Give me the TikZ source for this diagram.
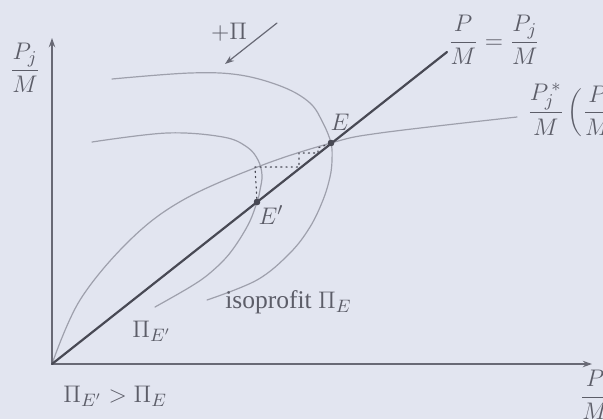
\documentclass[tikz,border=0pt]{standalone}
\usepackage{fontspec}
\setmainfont{Liberation Serif}
\usetikzlibrary{arrows.meta}
\definecolor{Page}{RGB}{226,229,240}
\definecolor{Curve}{RGB}{158,160,172}
\definecolor{Axis}{RGB}{104,105,117}
\definecolor{Diag}{RGB}{72,73,84}
\definecolor{Ink}{RGB}{92,93,104}

\begin{document}
\begin{tikzpicture}[x=0.5pt,y=-0.5pt,line cap=round,line join=round,
  axis/.style={draw=Axis,line width=0.75pt},
  tip/.style={-{Stealth[length=4.6pt,width=3.2pt]}},
  diag/.style={draw=Diag,line width=1.1pt},
  curve/.style={draw=Curve,line width=0.6pt},
  path/.style={draw=Diag,line width=0.6pt,dotted},
  eqdot/.style={circle,fill=Diag,minimum size=3.2pt,inner sep=0pt},
  lbl/.style={text=Ink,inner sep=0pt,font=\fontsize{12.75}{15}\selectfont}]
\fill[Page] (0,0) rectangle (603,419);
\useasboundingbox (0,0) rectangle (603,419);
\coordinate (O) at (52,364);
\coordinate (ytop) at (52,38);
\coordinate (xend) at (592,364);
\coordinate (dtop) at (447,52);
\coordinate (pstart) at (277,23);
\coordinate (pend) at (225,64);
\node[eqdot] (E) at (331,143) {};
\node[eqdot] (Ep) at (257,202) {};
\draw[curve] plot[smooth,tension=0.6] coordinates {(52,364) (80,300) (130,240) (183,200) (260,166) (331,143) (380,133) (517,117)};
\draw[curve] plot[smooth,tension=0.6] coordinates {(112,79) (190,73) (240,75) (283,87) (310,103) (323,123) (331,143) (332,160) (330,177) (323,200) (310,227) (290,253) (257,280) (207,300)};
\draw[curve] plot[smooth,tension=0.6] coordinates {(92,142) (167,133) (223,137) (247,147) (258,160) (262,175) (260,190) (257,202) (248,225) (230,253) (210,273) (190,287) (155,307)};
\draw[path] (Ep) -- (255,167) -- (299,167) -- (299,153) -- (318,153) -- (318,148) -- (E);
\draw[axis,{Stealth[length=4.6pt,width=3.2pt]}-{Stealth[length=4.6pt,width=3.2pt]}] (ytop) -- (O) -- (xend);
\draw[diag] (O) -- (dtop);
\node[eqdot] at (E) {};
\node[eqdot] at (Ep) {};
\draw[axis,tip,line width=0.6pt] (pstart) -- (pend);
\node[lbl] (plus) at (229,32) {$+\Pi$};
\node[lbl] (ylab) at (25,68) {$\displaystyle\frac{P_j}{M}$};
\node[lbl] (xlab) at (595,395) {$\displaystyle\frac{P}{M}$};
\node[lbl] (dlab) at (494,40) {$\displaystyle\frac{P}{M}=\frac{P_j}{M}$};
\node[lbl,anchor=west] (rlab) at (527,110) {$\displaystyle\frac{P_j^{\,*}}{M}\left(\frac{P}{M}\right)$};
\node[lbl] (Elab) at (340,122) {$E$};
\node[lbl] (Eplab) at (271,215) {$E'$};
\node[lbl,anchor=base west] (isoE) at (225,308) {isoprofit $\Pi_E$};
\node[lbl,anchor=base west] (isoEp) at (132,337) {$\Pi_{E'}$};
\node[lbl,anchor=base west] (ineq) at (63,402) {$\Pi_{E'}>\Pi_E$};
\end{tikzpicture}
\end{document}
